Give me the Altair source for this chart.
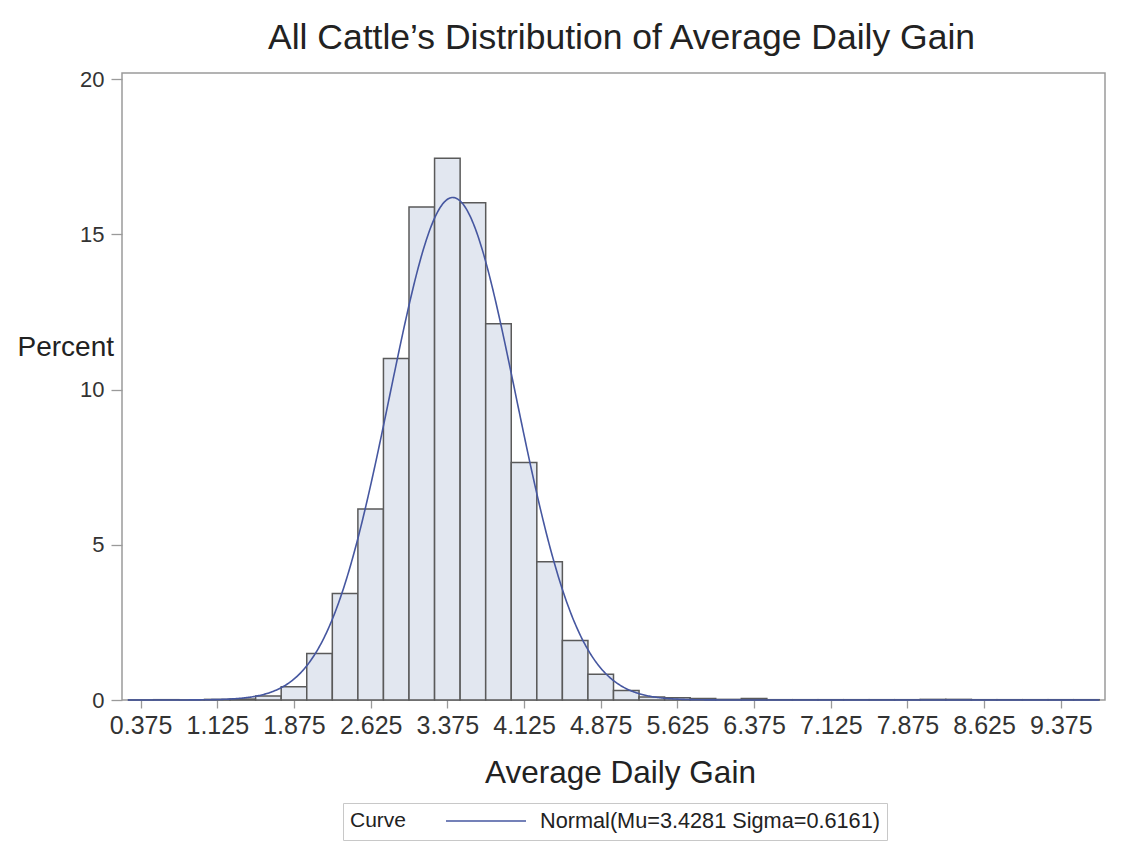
import altair as alt
import pandas as pd

# ---- data ----
bin_start = [0.25, 0.50, 0.75, 1.00, 1.25, 1.50, 1.75, 2.00, 2.25, 2.50,
             2.75, 3.00, 3.25, 3.50, 3.75, 4.00, 4.25, 4.50, 4.75, 5.00,
             5.25, 5.50, 5.75, 6.00, 6.25, 6.50, 6.75, 7.00, 7.25, 7.50,
             7.75, 8.00, 8.25, 8.50, 8.75, 9.00, 9.25, 9.50]
percent = [0.00, 0.01, 0.00, 0.02, 0.03, 0.13, 0.43, 1.50, 3.43, 6.15,
           11.00, 15.88, 17.45, 16.02, 12.12, 7.65, 4.45, 1.92, 0.83, 0.31,
           0.10, 0.07, 0.05, 0.02, 0.05, 0.01, 0.01, 0.01, 0.01, 0.01,
           0.01, 0.02, 0.02, 0.01, 0.01, 0.01, 0.01, 0.01]
bin_width = 0.25
mu = 3.4281
sigma = 0.6161
x_ticks = [0.375, 1.125, 1.875, 2.625, 3.375, 4.125, 4.875,
           5.625, 6.375, 7.125, 7.875, 8.625, 9.375]
y_ticks = [0, 5, 10, 15, 20]
curve_label = "Normal(Mu=3.4281 Sigma=0.6161)"

df = pd.DataFrame({
    "start": bin_start,
    "end": [b + bin_width for b in bin_start],
    "pct": percent,
})

FONT = "Liberation Sans"
xs = alt.Scale(domain=[0.193, 9.807], nice=False, zero=False)
ys = alt.Scale(domain=[0, 20.2], nice=False)

x_axis = alt.Axis(values=x_ticks, format=".3f", title="Average Daily Gain",
                  grid=False, domain=False,
                  labelFontSize=25, tickSize=8, labelPadding=5,
                  titleFontSize=31.5, titleFontWeight="normal",
                  titleX=498, titleY=82, titleBaseline="alphabetic",
                  titleAnchor="middle", titleAlign="center",
                  labelFlush=False, labelOverlap=False)
y_axis = alt.Axis(values=y_ticks, title="Percent", titleAngle=0,
                  grid=False, domain=False,
                  labelFontSize=22, tickSize=11, labelPadding=7,
                  titleFontSize=28, titleFontWeight="normal",
                  titleAlign="left", titleBaseline="middle",
                  titleX=-105, titleY=274, labelFlush=False)

bars = alt.Chart(df).mark_rect(
    fill="#E2E7F0", stroke="#5a5a5a", strokeWidth=1.5
).encode(
    x=alt.X("start:Q", scale=xs, axis=x_axis),
    x2="end:Q",
    y=alt.Y("pct:Q", scale=ys, axis=y_axis),
    y2=alt.datum(0),
)

curve = alt.Chart(alt.sequence(0.25, 9.751, 0.01, as_="x")).transform_calculate(
    pct=f"{bin_width * 100} * exp(-0.5 * pow((datum.x - {mu}) / {sigma}, 2)) / ({sigma} * sqrt(2 * PI))",
    label=f"'{curve_label}'",
).mark_line(strokeWidth=1.6).encode(
    x=alt.X("x:Q", scale=xs, axis=x_axis),
    y=alt.Y("pct:Q", scale=ys, axis=y_axis),
    color=alt.Color("label:N", scale=alt.Scale(range=["#4657A0"]),
                    legend=alt.Legend(
                        title="Curve", orient="none", legendX=221, legendY=730,
                        direction="horizontal", titleOrient="left",
                        titleFontSize=21, titleFontWeight="normal",
                        titleColor="#222", labelFontSize=21.7, labelColor="#222",
                        labelLimit=0,
                        symbolType="M-4,0H4", symbolSize=400,
                        symbolStrokeWidth=1.5, strokeColor="#c8c8c8",
                        fillColor="white", padding=7, titlePadding=68,
                        labelOffset=43, titleBaseline="middle")),
)

chart = alt.layer(bars, curve).properties(
    width=983, height=627,
    autosize=alt.AutoSizeParams(type="none"),
    padding={"left": 114, "top": 65, "right": 20, "bottom": 142},
    title=alt.Title("All Cattle\u2019s Distribution of Average Daily Gain",
                    fontSize=35.5, font=FONT, fontWeight="normal", color="#222",
                    anchor="middle", offset=12, dx=8),
).configure_view(
    stroke="#9a9a9a", strokeWidth=1.5
).configure_axis(
    labelFont=FONT, titleFont=FONT, labelColor="#333", titleColor="#222",
    domain=False, grid=False, tickColor="#9a9a9a", tickWidth=1.3,
).configure_legend(
    labelFont=FONT, titleFont=FONT
)

chart.save("out.html", embed_options={"renderer": "svg", "actions": False})
